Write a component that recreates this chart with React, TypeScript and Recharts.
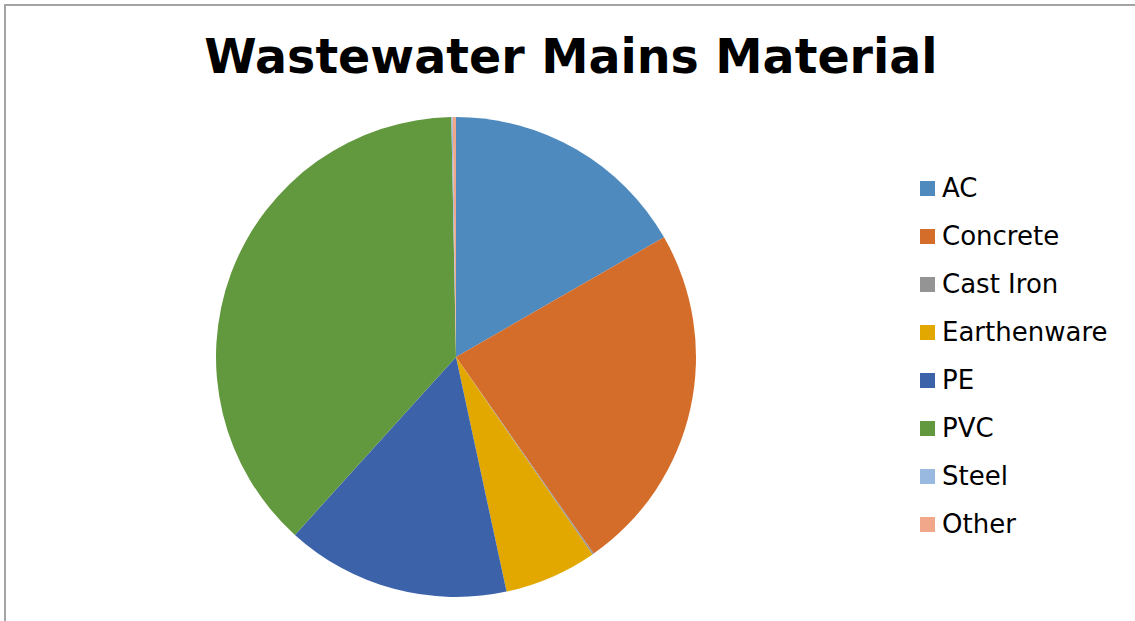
import { PieChart, Pie, Cell, Legend } from 'recharts';

const materials = ['AC', 'Concrete', 'Cast Iron', 'Earthenware', 'PE', 'PVC', 'Steel', 'Other'];
const shares = [16.7, 23.6, 0.1, 6.25, 15.1, 38.0, 0.09, 0.22];
const colors = ['#4f8abe', '#d46c2a', '#949494', '#e2a800', '#3c62aa', '#63993e', '#99b9e0', '#f1a789'];

const data = materials.map((name, i) => ({ name, value: shares[i] }));

const LegendList = () => (
  <div style={{ fontFamily: '"DejaVu Sans", Verdana, sans-serif', fontSize: 26, color: '#000' }}>
    {materials.map((m, i) => (
      <div key={m} style={{ display: 'flex', alignItems: 'center', height: 48 }}>
        <span style={{ width: 15, height: 15, background: colors[i], marginRight: 7, display: 'inline-block', flexShrink: 0 }} />
        <span>{m}</span>
      </div>
    ))}
  </div>
);

const App = () => {
  return (
    <div style={{ position: 'fixed', left: 0, top: 0, width: 1135, height: 621, background: '#fff', overflow: 'hidden' }}>
      <div style={{ position: 'absolute', left: 4, top: 4, width: 1150, height: 640, border: '2px solid #a4a4a4' }} />
      <div style={{
        position: 'absolute', left: 0, top: 29, width: 1142, textAlign: 'center',
        fontFamily: '"DejaVu Sans", Verdana, sans-serif', fontWeight: 'bold', fontSize: 47.5, color: '#000'
      }}>
        Wastewater Mains Material
      </div>
      <div style={{ position: 'absolute', left: 0, top: 0 }}>
        <PieChart width={1135} height={621} margin={{ top: 0, right: 0, bottom: 0, left: 0 }}>
          <Pie
            data={data}
            dataKey="value"
            nameKey="name"
            cx={456}
            cy={357}
            outerRadius={240}
            startAngle={90}
            endAngle={-270}
            stroke="none"
            isAnimationActive={false}
          >
            {data.map((d, i) => (
              <Cell key={d.name} fill={colors[i]} />
            ))}
          </Pie>
          <Legend
            layout="vertical"
            content={<LegendList />}
            wrapperStyle={{ left: 920, top: 164, width: 215 }}
          />
        </PieChart>
      </div>
    </div>
  );
};

export default App;
